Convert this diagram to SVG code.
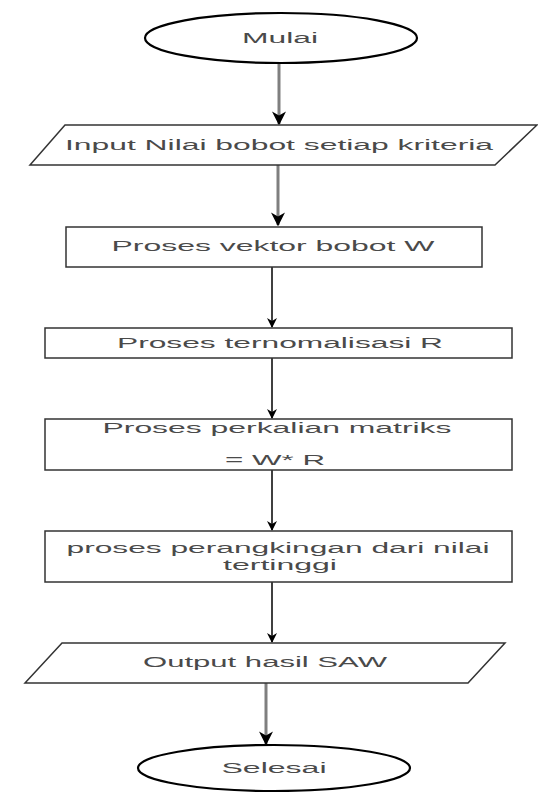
<svg xmlns="http://www.w3.org/2000/svg" width="538" height="792" viewBox="0 0 538 792">
<style>
.t{font-family:"Liberation Sans",Arial,sans-serif;font-size:14px;fill:#4a4a4a;text-anchor:middle}
.term{fill:#fff;stroke:#000;stroke-width:2.2}
.box{fill:#fff;stroke:#333;stroke-width:1.5}
.g{stroke:#7f7f7f;stroke-width:3;fill:none}
.k{stroke:#000;stroke-width:1.5;fill:none}
</style>
<defs>
<marker id="ah" viewBox="0 0 10 10" refX="9" refY="5" markerWidth="10" markerHeight="10" markerUnits="userSpaceOnUse" orient="auto">
<path d="M0,0 L10,5 L0,10 L3,5 Z" fill="#000"/>
</marker>
<marker id="ahw" viewBox="0 0 10 10" refX="9" refY="5" markerWidth="14" markerHeight="14" markerUnits="userSpaceOnUse" orient="auto">
<path d="M0,0 L10,5 L0,10 L3,5 Z" fill="#000"/>
</marker>
</defs>
<g id="connectors">
<line class="g" x1="279" y1="63" x2="279" y2="124" marker-end="url(#ahw)"/>
<line class="g" x1="278" y1="165" x2="278" y2="225" marker-end="url(#ahw)"/>
<line class="k" x1="272" y1="267" x2="272" y2="327" marker-end="url(#ah)"/>
<line class="k" x1="272" y1="358" x2="272" y2="418" marker-end="url(#ah)"/>
<line class="k" x1="272" y1="470" x2="272" y2="530" marker-end="url(#ah)"/>
<line class="k" x1="272" y1="582" x2="272" y2="642" marker-end="url(#ah)"/>
<line class="g" x1="266" y1="683" x2="266" y2="744" marker-end="url(#ahw)"/>
</g>
<g id="mulai">
<ellipse class="term" cx="281" cy="38" rx="136" ry="25"/>
<text class="t" x="280" y="43" textLength="76" lengthAdjust="spacingAndGlyphs">Mulai</text>
</g>
<g id="input">
<polygon class="box" points="65,125 537,125 495,165 30,165"/>
<text class="t" x="279" y="150" textLength="428" lengthAdjust="spacingAndGlyphs">Input Nilai bobot setiap kriteria</text>
</g>
<g id="vektor">
<rect class="box" x="66" y="227" width="416" height="40"/>
<text class="t" x="273" y="251" textLength="323" lengthAdjust="spacingAndGlyphs">Proses vektor bobot W</text>
</g>
<g id="normalisasi">
<rect class="box" x="45" y="328" width="467" height="30"/>
<text class="t" x="280" y="348" textLength="326" lengthAdjust="spacingAndGlyphs">Proses ternomalisasi R</text>
</g>
<g id="perkalian">
<rect class="box" x="45" y="419" width="467" height="51"/>
<text class="t" x="277" y="433" textLength="349" lengthAdjust="spacingAndGlyphs">Proses perkalian matriks</text>
<text class="t" x="275" y="465" textLength="100" lengthAdjust="spacingAndGlyphs">= W* R</text>
</g>
<g id="perangkingan">
<rect class="box" x="45" y="531" width="467" height="51"/>
<text class="t" x="278" y="553" textLength="423" lengthAdjust="spacingAndGlyphs">proses perangkingan dari nilai</text>
<text class="t" x="280" y="570" textLength="114" lengthAdjust="spacingAndGlyphs">tertinggi</text>
</g>
<g id="output">
<polygon class="box" points="62,643 505,643 468,683 25,683"/>
<text class="t" x="265" y="667" textLength="244" lengthAdjust="spacingAndGlyphs">Output hasil SAW</text>
</g>
<g id="selesai">
<ellipse class="term" cx="274" cy="768" rx="136" ry="23"/>
<text class="t" x="274" y="773" textLength="105" lengthAdjust="spacingAndGlyphs">Selesai</text>
</g>
</svg>
